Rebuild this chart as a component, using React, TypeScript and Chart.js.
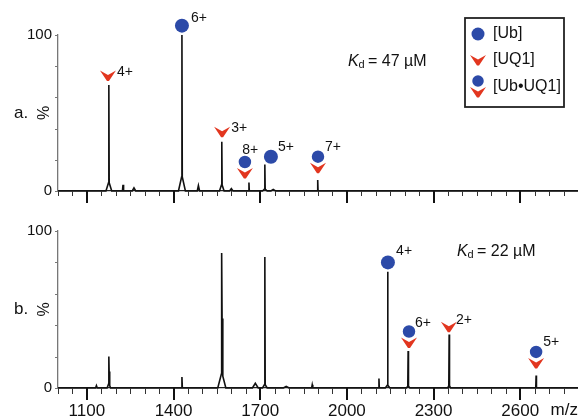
import React, { useEffect, useRef } from 'react';
import { Chart, registerables } from 'chart.js';

Chart.register(...registerables);

const FONT = '"Liberation Sans", Arial, Helvetica, sans-serif';
const BLUE = '#2c4aa8';
const RED = '#e2361f';

// m/z axis
const mzMin = 1000;
const mzMax = 2800;
const mzStep = 50;
const majorTicks = [1100, 1400, 1700, 2000, 2300, 2600];

// ---- panel a (Kd = 47 µM) peaks: m/z, relative intensity (%), half-width (m/z)
const peakMzA = [1176, 1176, 1225, 1263, 1429, 1429, 1486, 1567, 1567, 1600, 1661, 1716, 1716, 1745, 1899];
const peakHeightA = [62, 6, 4, 2, 90, 10, 3.5, 27, 4.5, 1.5, 5.5, 15.5, 1.5, 1, 7];
const peakWidthA = [1.2, 10, 2, 6, 1.2, 12, 4, 1.2, 8, 6, 1.2, 1.2, 8, 8, 1.2];

// ---- panel b (Kd = 22 µM) peaks
const peakMzB = [1133, 1176, 1177, 1176, 1429, 1567, 1568, 1567, 1683, 1716, 1716, 1790, 1880, 2111, 2141, 2141, 2212, 2212, 2354, 2354, 2655];
const peakHeightB = [1.5, 13, 8, 3, 7, 55, 35, 10, 3, 81, 2.5, 1, 2, 6, 72, 2, 22, 1.5, 32, 2, 8];
const peakWidthB = [3, 1, 2, 6, 1.5, 1, 2.5, 14, 10, 1.2, 8, 10, 2, 1.2, 1.3, 8, 1.2, 6, 1.2, 5, 1.2];

// ---- annotations: marker m/z, marker intensity, kind, charge label, label m/z, label intensity
const annMzA = [1173, 1429, 1568, 1647, 1737, 1900];
const annYA = [74, 106, 38, 18.6, 22, 22];
const annKindA = ['uq1', 'ub', 'uq1', 'complex', 'ub', 'complex'];
const annLabelA = ['4+', '6+', '3+', '8+', '5+', '7+'];
const annLabelMzA = [1232, 1488, 1627, 1665, 1789, 1952];
const annLabelYA = [76, 111, 40, 26, 28, 28];

const annMzB = [2142, 2215, 2353, 2655];
const annYB = [80, 36, 39, 23];
const annKindB = ['ub', 'complex', 'uq1', 'complex'];
const annLabelB = ['4+', '6+', '2+', '5+'];
const annLabelMzB = [2198, 2263, 2405, 2707];
const annLabelYB = [87, 41, 43, 29];

const kdA = '47';
const kdB = '22';
const legendLabels = ['[Ub]', '[UQ1]', '[Ub•UQ1]'];

function buildSpectrum(mz: number[], h: number[], w: number[]) {
  const xs = new Set<number>([mzMin, mzMax]);
  mz.forEach((m, i) => {
    xs.add(m - w[i]);
    xs.add(m);
    xs.add(m + w[i]);
  });
  const sorted = Array.from(xs).sort((a, b) => a - b);
  return sorted.map((x) => ({
    x,
    y: mz.reduce((s, m, i) => s + Math.max(0, h[i] * (1 - Math.abs(x - m) / w[i])), 0),
  }));
}

function drawCircle(ctx: CanvasRenderingContext2D, x: number, y: number, r: number, outline: boolean) {
  ctx.beginPath();
  ctx.arc(x, y, r, 0, Math.PI * 2);
  ctx.fillStyle = BLUE;
  ctx.fill();
  if (outline) {
    ctx.strokeStyle = '#fff';
    ctx.lineWidth = 1.5;
    ctx.stroke();
  }
}

function drawChevron(ctx: CanvasRenderingContext2D, x: number, y: number) {
  ctx.beginPath();
  ctx.moveTo(x - 8, y - 5);
  ctx.lineTo(x, y - 0.5);
  ctx.lineTo(x + 8, y - 5);
  ctx.lineTo(x + 1, y + 5.5);
  ctx.lineTo(x - 1, y + 5.5);
  ctx.closePath();
  ctx.fillStyle = RED;
  ctx.fill();
}

function drawMarker(ctx: CanvasRenderingContext2D, kind: string, x: number, y: number) {
  if (kind === 'ub') drawCircle(ctx, x, y, 7, false);
  else if (kind === 'uq1') drawChevron(ctx, x, y);
  else {
    drawChevron(ctx, x, y + 11);
    drawCircle(ctx, x, y, 7, true);
  }
}

interface PanelSpec {
  peaksMz: number[];
  peaksH: number[];
  peaksW: number[];
  annMz: number[];
  annY: number[];
  annKind: string[];
  annLabel: string[];
  annLabelMz: number[];
  annLabelY: number[];
  letter: string;
  kd: string;
  kdX: number;
  kdY: number;
  showLabels: boolean;
  showLegend: boolean;
  padTop: number;
  xAxisH: number;
  minorLen: number;
}

const panelA: PanelSpec = {
  peaksMz: peakMzA, peaksH: peakHeightA, peaksW: peakWidthA,
  annMz: annMzA, annY: annYA, annKind: annKindA, annLabel: annLabelA,
  annLabelMz: annLabelMzA, annLabelY: annLabelYA,
  letter: 'a.', kd: kdA, kdX: 348, kdY: 62,
  showLabels: false, showLegend: true, padTop: 35, xAxisH: 18, minorLen: 5,
};

const panelB: PanelSpec = {
  peaksMz: peakMzB, peaksH: peakHeightB, peaksW: peakWidthB,
  annMz: annMzB, annY: annYB, annKind: annKindB, annLabel: annLabelB,
  annLabelMz: annLabelMzB, annLabelY: annLabelYB,
  letter: 'b.', kd: kdB, kdX: 457, kdY: 43,
  showLabels: true, showLegend: false, padTop: 22, xAxisH: 30, minorLen: 6,
};

function makeDeco(p: PanelSpec) {
  return {
    id: 'deco' + p.letter,
    afterDraw(chart: any) {
      const ctx: CanvasRenderingContext2D = chart.ctx;
      const xs = chart.scales.x;
      const ys = chart.scales.y;
      const area = chart.chartArea;
      ctx.save();
      // minor x ticks (every scale tick)
      ctx.strokeStyle = '#333';
      ctx.lineWidth = 1;
      xs.ticks.forEach((t: any) => {
        const px = Math.round(xs.getPixelForValue(t.value)) + 0.5;
        ctx.beginPath();
        ctx.moveTo(px, area.bottom);
        ctx.lineTo(px, area.bottom + p.minorLen);
        ctx.stroke();
      });
      // long major ticks
      ctx.strokeStyle = '#111';
      ctx.lineWidth = 2;
      majorTicks.forEach((v) => {
        const px = Math.round(xs.getPixelForValue(v));
        ctx.beginPath();
        ctx.moveTo(px, area.bottom);
        ctx.lineTo(px, area.bottom + 12);
        ctx.stroke();
      });
      // y ticks
      ctx.strokeStyle = '#777';
      ctx.lineWidth = 1;
      ys.ticks.forEach((t: any) => {
        const py = Math.round(ys.getPixelForValue(t.value)) + 0.5;
        ctx.beginPath();
        ctx.moveTo(area.left - 3, py);
        ctx.lineTo(area.left, py);
        ctx.stroke();
      });
      // panel letter and % title
      const midY = (area.top + area.bottom) / 2;
      ctx.fillStyle = '#111';
      ctx.font = `17px ${FONT}`;
      ctx.textAlign = 'left';
      ctx.textBaseline = 'middle';
      ctx.fillText(p.letter, 14, midY);
      ctx.save();
      ctx.translate(45, midY);
      ctx.rotate(-Math.PI / 2);
      ctx.textAlign = 'center';
      ctx.font = `16px ${FONT}`;
      ctx.fillText('%', 0, 0);
      ctx.restore();
      // annotations
      p.annMz.forEach((m, i) => {
        drawMarker(ctx, p.annKind[i], xs.getPixelForValue(m), ys.getPixelForValue(p.annY[i]));
        ctx.fillStyle = '#111';
        ctx.font = `14px ${FONT}`;
        ctx.textAlign = 'center';
        ctx.textBaseline = 'middle';
        ctx.fillText(p.annLabel[i], xs.getPixelForValue(p.annLabelMz[i]), ys.getPixelForValue(p.annLabelY[i]));
      });
      // Kd text
      ctx.fillStyle = '#111';
      ctx.textAlign = 'left';
      ctx.textBaseline = 'middle';
      ctx.font = `italic 16px ${FONT}`;
      ctx.fillText('K', p.kdX, p.kdY);
      ctx.font = `11px ${FONT}`;
      ctx.fillText('d', p.kdX + 10.5, p.kdY + 3);
      ctx.font = `16px ${FONT}`;
      ctx.fillText(`= ${p.kd} µM`, p.kdX + 20, p.kdY);
      // m/z label
      if (p.showLabels) {
        ctx.font = `17px ${FONT}`;
        ctx.textAlign = 'right';
        ctx.fillText('m/z', 578, area.bottom + 22);
      }
      // legend
      if (p.showLegend) {
        ctx.strokeStyle = '#222';
        ctx.lineWidth = 1.8;
        ctx.strokeRect(465, 18, 99, 89);
        drawCircle(ctx, 478, 34, 6.5, false);
        drawChevron(ctx, 478, 60);
        drawChevron(ctx, 478, 92);
        drawCircle(ctx, 478, 81, 6.5, true);
        ctx.fillStyle = '#111';
        ctx.font = `16px ${FONT}`;
        ctx.textAlign = 'left';
        ctx.textBaseline = 'middle';
        ctx.fillText(legendLabels[0], 493, 34);
        ctx.fillText(legendLabels[1], 493, 60);
        ctx.fillText(legendLabels[2], 493, 87);
      }
      ctx.restore();
    },
  };
}

function Panel({ spec }: { spec: PanelSpec }) {
  const ref = useRef<HTMLCanvasElement>(null);
  useEffect(() => {
    if (!ref.current) return;
    const data = buildSpectrum(spec.peaksMz, spec.peaksH, spec.peaksW);
    const chart = new Chart(ref.current, {
      type: 'line',
      data: {
        datasets: [
          {
            data,
            borderColor: '#111',
            borderWidth: 1.6,
            pointRadius: 0,
            tension: 0,
            fill: false,
            clip: false as any,
          },
        ],
      },
      options: {
        animation: false,
        responsive: false,
        maintainAspectRatio: false,
        layout: { padding: { top: spec.padTop, left: 0, right: 0, bottom: 0 } },
        plugins: { legend: { display: false }, tooltip: { enabled: false } },
        scales: {
          x: {
            type: 'linear',
            min: mzMin,
            max: mzMax,
            afterFit: (s: any) => {
              s.height = spec.xAxisH;
              s.paddingLeft = 0;
              s.paddingRight = 0;
            },
            grid: { display: false, drawTicks: true, tickLength: 5 },
            border: { color: '#222', width: 1.3 },
            ticks: {
              display: spec.showLabels,
              stepSize: mzStep,
              autoSkip: false,
              maxRotation: 0,
              padding: 8,
              color: '#111',
              font: { family: FONT, size: 17 },
              callback: (v: any) => (majorTicks.includes(Number(v)) ? String(v) : ''),
            },
          },
          y: {
            min: 0,
            max: 100,
            afterFit: (s: any) => {
              s.width = 58;
            },
            grid: { display: false, drawTicks: true, tickLength: 3 },
            border: { color: '#777', width: 1.3 },
            ticks: {
              stepSize: 10,
              padding: 3,
              color: '#111',
              font: { family: FONT, size: 15 },
              callback: (v: any) => (Number(v) === 0 || Number(v) === 100 ? String(v) : ''),
            },
          },
        },
      },
      plugins: [makeDeco(spec)],
    });
    return () => chart.destroy();
  }, [spec]);
  return <canvas ref={ref} width={578} height={209} style={{ display: 'block', width: 578, height: 209 }} />;
}

export default function App() {
  return (
    <div style={{ position: 'fixed', left: 0, top: 0, width: 578, height: 418, background: '#fff' }}>
      <Panel spec={panelA} />
      <Panel spec={panelB} />
    </div>
  );
}
